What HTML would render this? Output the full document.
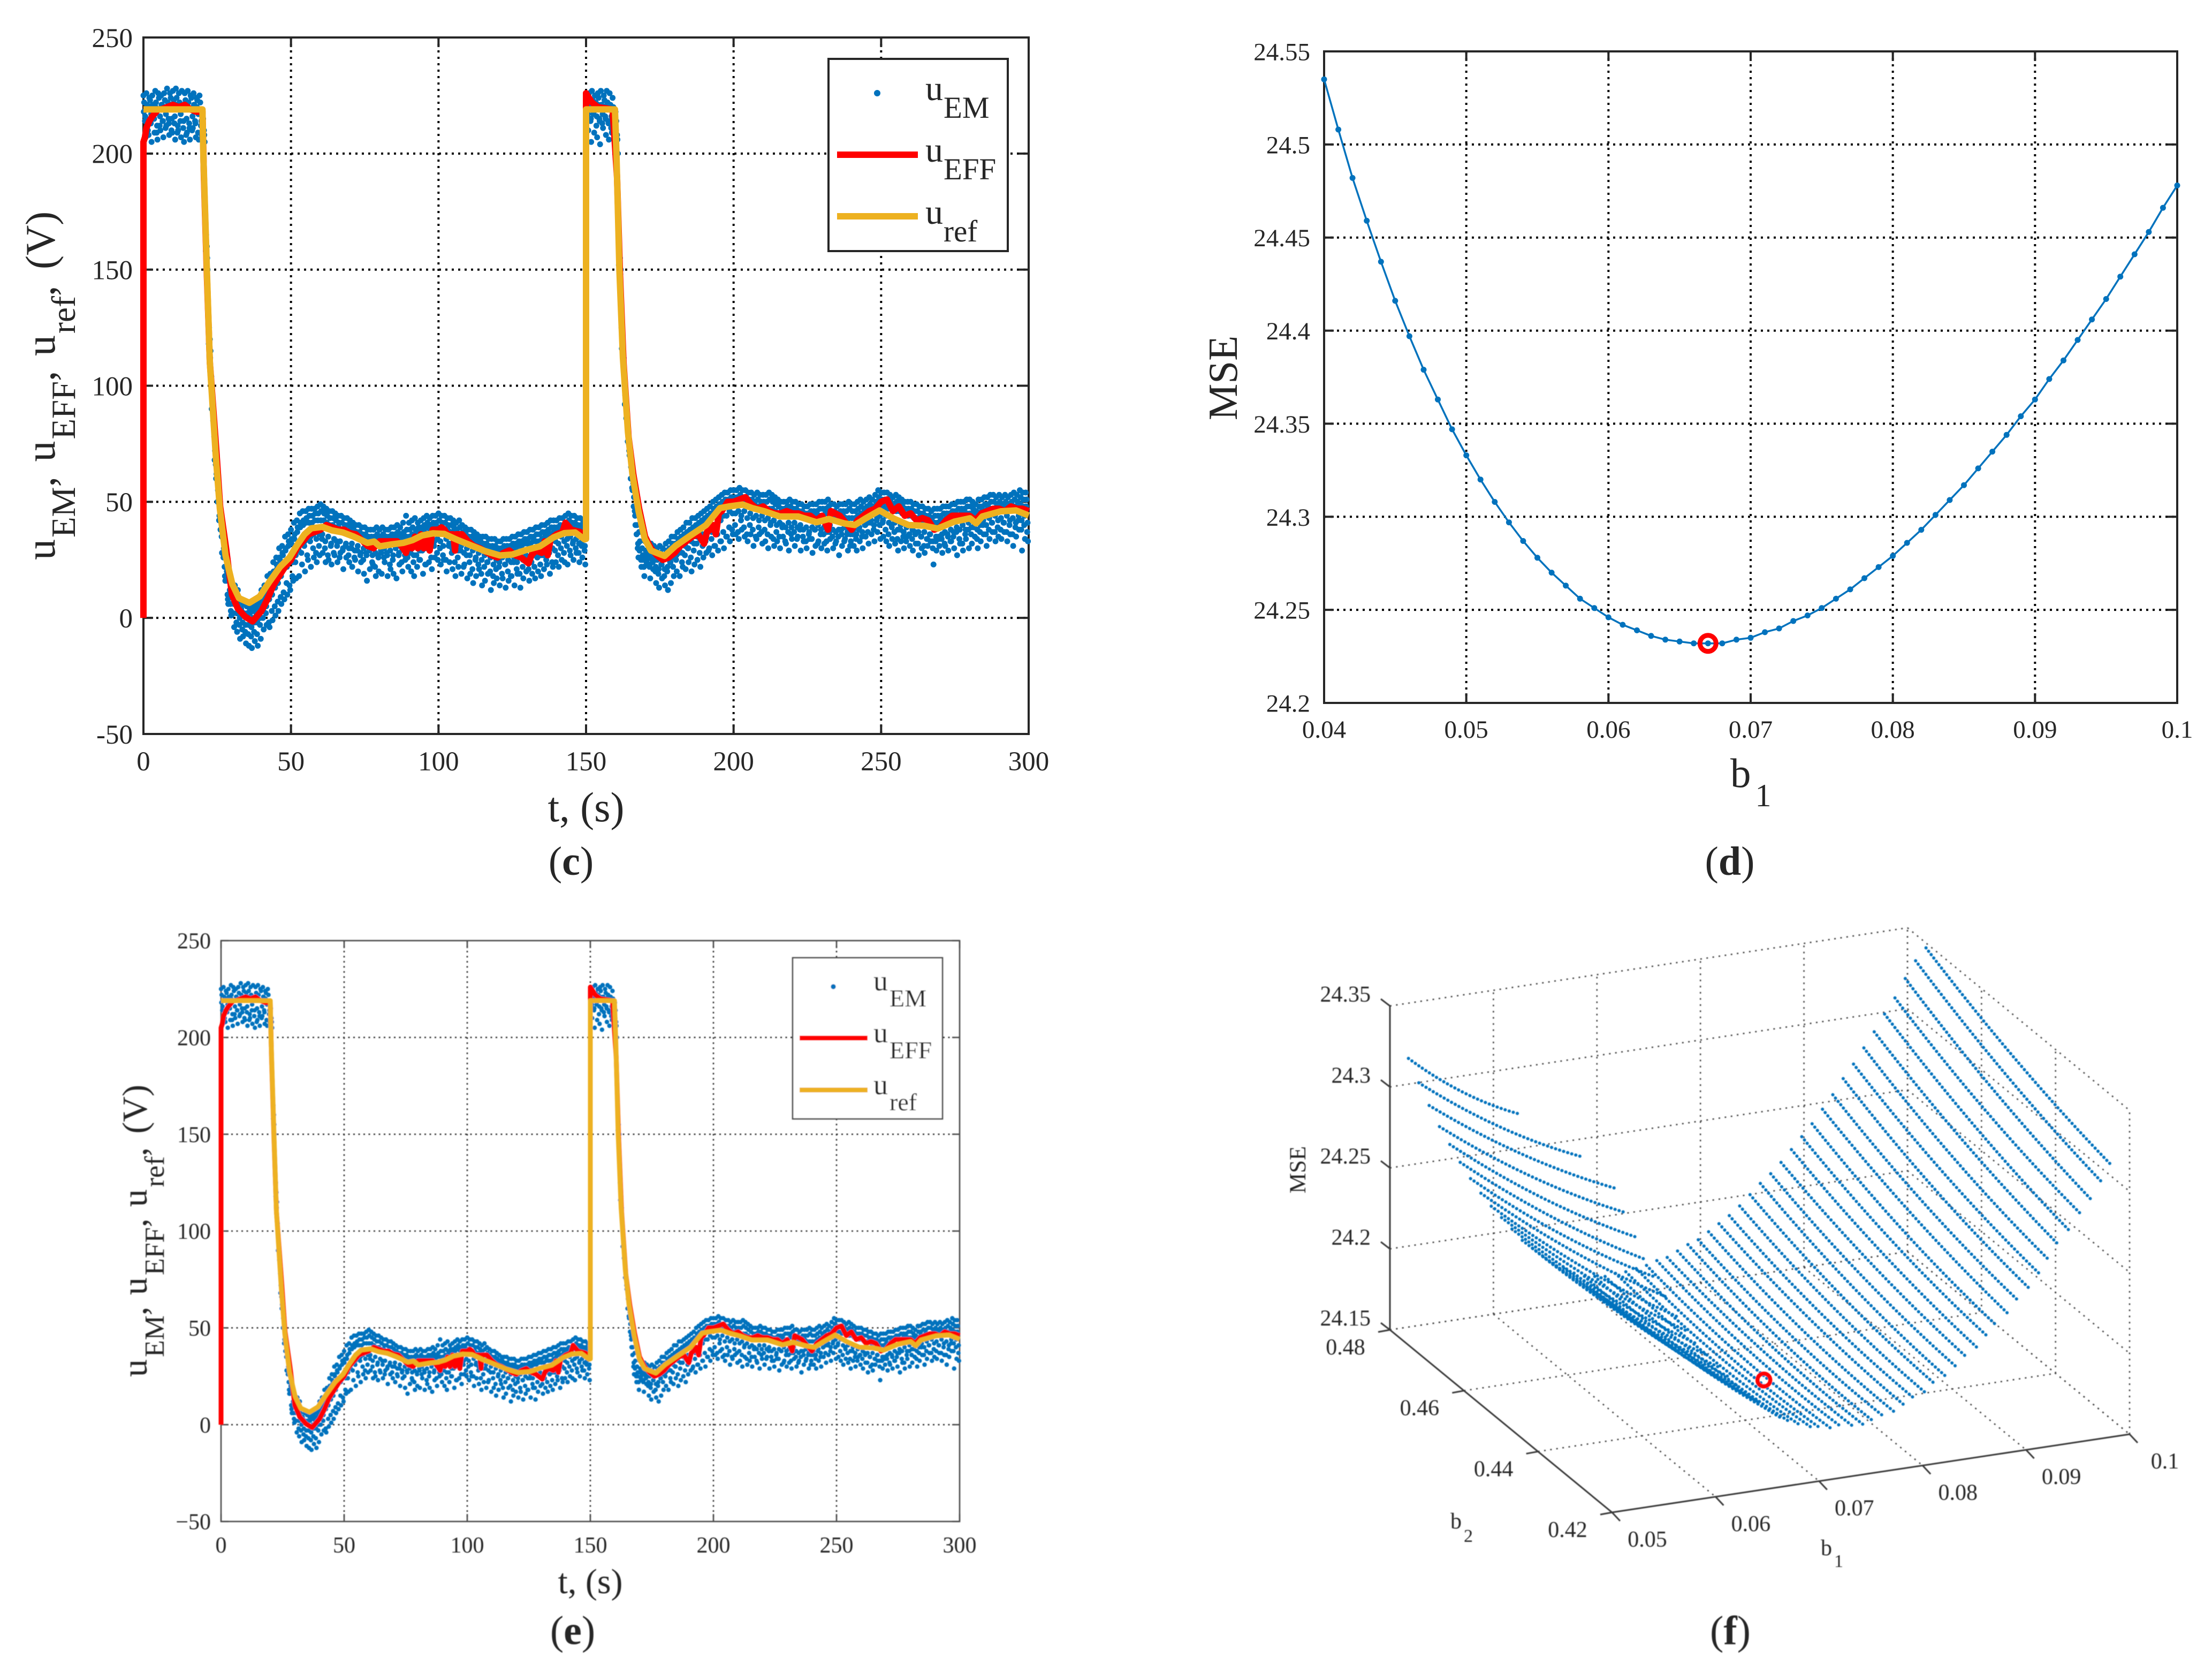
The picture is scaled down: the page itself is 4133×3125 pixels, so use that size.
<!DOCTYPE html>
<html lang="en">
<head>
<meta charset="utf-8">
<title>Panels c to f: voltage tracking and MSE charts</title>
<style>
html,body{margin:0;padding:0;background:#fff;}
svg{display:block;position:absolute;left:0;top:0;}
text{font-family:"Liberation Serif","DejaVu Serif",serif;fill:#262626;}
</style>
</head>
<body>
<svg id="figure" xmlns="http://www.w3.org/2000/svg" width="4133" height="3125" viewBox="0 0 4133 3125">
<defs><filter id="soft" x="-5%" y="-5%" width="110%" height="110%"><feGaussianBlur stdDeviation="0.9"/></filter></defs>
<rect x="0" y="0" width="4133" height="3125" fill="#ffffff"/>
</svg>
<script>
// ---------- voltage chart data (panels c and e) ----------
const tTicks = [0,50,100,150,200,250,300];
const vTicks = [-50,0,50,100,150,200,250];
const refT = [0,20,20.3,21.5,22.5,24.5,25.9,27.8,30.1,32.4,35.9,39.4,42.6,46.3,49.5,51.9,54.6,56.9,60.6,63.9,67.6,71.3,75.9,78.2,80.1,84.3,88,91.2,94.4,98.1,101.9,106,111.1,115.7,120.8,125,129.6,134.3,138.9,142.6,146.3,149.5,150,150,159.8,160.3,161.3,162.5,164.2,165.7,167.8,169.9,172,176.6,180.3,185.5,190.7,195.4,198.4,203.1,206.3,210.5,215.6,221.9,228.1,232.3,237.5,241.1,244.8,249.5,254.1,259.3,264.5,269.2,274.9,280.1,282.2,284.3,290.5,295.7,300];
const refV = [219,219,200,150,110,70,47,27,14.6,8.5,6.5,9.2,15.4,22,26,31,36,38.6,39.2,37.7,36.8,35,32.3,32.9,30.8,31.7,32.3,33.5,35.5,36.4,36.2,33.8,31.2,28.8,26.9,27.3,29.2,30.8,34.6,36.5,36.8,33.8,34,219,219,200,150,112,80,62,46,34,29,26.7,31,35.6,40,47.3,48,48.8,47.3,45.9,43.7,43.7,41.2,42.6,40.7,40,42.9,46.3,42.9,40,39.7,38.5,41.5,42.9,40.7,43.7,45.9,46.3,44.1];
const effT = [0,0,0.5,1,2,3,4,5,6,8,10,12,14,16,18,20,20.5,21.5,22.5,24.7,26,28,30,32,34.5,37,40,42,44,46,48,50,52,54,56,58,60,62,64,66,68,70,72,74,76,78,80,82,84,86,88,89,90,91,92,93,94,95,96,97,98,99,100,101,102,103,104,105,105.6,106,108,110,112,114,118,120,122,124,126,128,130.5,131.5,133,135,136,137,138,140,142,143,145,148,150,150,151,152,154,159,160.5,161.5,162.7,164.4,166,168,170,172,174,176,178,180,182,184,186,188,190,191,192,193,194,195,196,198,200,202,204,206,208,210,212,214,216,218,220,222,224,226,228,230,232,233,236,238,240,242,244,246,248,250,252,254,256,258,260,262,264,266,268,270,272,274,276,278,280,282,284,286,288,290,292,294,296,298,300];
const effV = [0,205,207,211,214,216,217.5,219,219,220,221,220,221,219,218,218,190,148,110,72,48,30,10,4,0.5,-1.5,3,8,14,18,22,25,30,33,36,37,38,40,39,38,38,36.5,36,33.5,31,30,33,33,33,33,30,28,33,30,35,30,36,30,36,29,38,38,38,39,38,36,36,36,29,36,36,33,31,30,27,26,28,29,27,26,23.5,27,29,28,33,27,34,36,37,41,38,37,35,226,224,222,220,219,190,148,110,78,62,47,35,30,27,25,26,28,31,33,35,36,32,37,38,40,36,45,46,50,50,51,52,49,47,48,46,45,45,46,45,45,44,44,42,44,38,46,44,41,38,42,44,46,47,50,51,46,48,44,45,42,43,42,38,39,42,44,44,44,44,42,45,46,47,47,46,48,47,47,46];
// one sample per second, t = 0..299; six sample rows within each second
const emTop = [
225,226,224,225,227,226,225,226,228,226,
227,228,226,227,226,227,225,226,224,225,
219,172,132,104,78,62,50,36,27,18,
15,14,12,8,6,5,4,5,6,8,
12,14,18,19,24,26,30,31,35,36,
38,41,42,45,46,46,47,47,47,48,
49,48,47,46,46,45,44,44,43,43,
42,41,40,40,39,39,38,38,38,39,
38,39,38,38,39,39,40,39,41,44,
41,42,43,41,42,43,44,43,44,44,
45,44,44,43,43,42,41,42,40,39,
38,38,37,36,35,35,35,34,34,34,
33,33,34,34,34,35,35,36,36,37,
37,38,38,39,39,40,40,41,42,42,
42,43,43,44,45,44,44,43,43,42,
224,226,227,225,226,227,225,227,226,224,
218,165,125,100,85,70,58,45,37,30,
33,32,32,31,30,31,30,32,33,35,
35,37,38,39,41,41,43,43,44,45,
46,47,48,50,51,52,53,54,54,55,
55,55,56,55,55,54,54,53,54,53,
53,53,54,53,52,51,50,50,50,51,
50,50,49,49,48,48,49,49,49,50,
50,50,51,49,49,48,49,49,49,50,
49,49,50,51,50,51,52,51,53,55,
54,54,54,53,52,53,52,51,50,50,
50,49,49,48,48,47,47,46,47,47,
47,48,48,48,49,49,50,50,50,51,
51,50,49,51,51,52,52,53,53,52,
53,52,53,52,53,54,53,55,54,54];
const emUpper = [
222,221,223,220,222,224,221,223,222,224,
223,224,222,221,223,222,224,221,223,222,
215,165,125,98,72,55,42,30,20,12,
10,8,6,3,1,0,-1,0,2,4,
7,9,12,15,18,21,25,27,30,33,
34,36,39,41,42,43,44,44,45,45,
46,45,44,43,43,42,41,41,40,40,
39,38,37,37,36,36,35,35,35,36,
35,36,35,35,36,36,37,36,37,38,
38,39,38,39,39,40,41,40,41,41,
42,41,41,40,40,39,38,39,37,36,
35,35,34,33,33,32,32,31,31,31,
30,30,31,31,31,32,32,33,33,34,
34,35,35,36,36,37,37,38,39,39,
39,40,40,41,42,41,41,40,40,39,
222,221,223,222,224,221,223,222,221,220,
214,160,122,96,80,65,52,40,33,27,
29,28,28,27,27,28,27,29,30,32,
32,34,35,36,37,38,39,40,41,42,
43,44,45,47,48,49,50,51,51,52,
52,52,53,52,52,51,51,50,51,50,
50,50,51,50,49,48,47,47,48,48,
47,47,46,46,45,45,46,46,46,47,
47,47,48,46,46,45,46,46,46,47,
46,46,47,48,47,48,49,48,50,52,
51,51,51,50,49,50,49,48,47,47,
47,46,46,45,45,44,44,43,44,44,
44,45,45,45,46,46,47,47,47,48,
48,47,46,48,48,49,49,50,50,49,
50,49,50,49,50,51,50,52,51,51];
const emNear = [
218,219,220,221,220,219,221,220,219,221,
220,221,219,220,221,220,219,221,220,218,
212,158,118,90,68,50,38,26,16,10,
9,7,5,4,2,2,2,3,4,6,
9,11,14,17,20,23,26,28,29,31,
32,34,37,39,40,41,41,41,42,42,
42,42,41,40,40,39,39,38,38,37,
37,36,36,35,35,34,34,34,34,34,
33,34,33,34,34,34,35,34,35,35,
35,36,36,37,38,38,39,38,39,39,
39,39,38,38,37,37,36,36,35,34,
33,33,32,31,31,30,30,29,29,29,
29,29,29,29,29,30,30,31,31,32,
32,32,33,33,33,34,35,36,36,37,
37,38,38,39,39,39,39,38,38,37,
221,220,219,220,221,220,219,221,220,218,
210,152,116,92,76,60,48,36,29,25,
27,26,26,25,25,26,25,27,28,30,
30,32,33,34,35,36,37,38,39,40,
41,42,43,45,46,47,49,50,50,50,
50,50,51,50,50,49,49,48,48,48,
48,47,47,47,46,45,45,45,46,45,
45,45,45,44,44,43,43,44,44,44,
44,45,45,44,44,43,44,44,43,43,
43,43,44,45,45,46,46,47,48,49,
48,48,47,47,46,46,46,45,44,44,
44,43,43,43,42,42,42,41,41,41,
42,42,43,43,44,44,44,45,45,45,
45,45,44,45,46,46,47,47,47,47,
48,48,48,47,48,48,48,49,48,48];
const emBelow = [
216,213,217,215,212,216,214,217,213,215,
216,212,217,214,215,211,216,213,217,214,
208,155,112,85,60,42,28,18,8,3,
6,2,0,-2,-3,-3,-4,-2,-2,0,
3,5,8,10,13,15,18,21,22,24,
24,27,29,32,33,34,35,36,34,36,
36,33,35,32,34,31,33,30,32,30,
32,29,31,28,30,27,29,27,28,26,
28,30,27,29,27,31,28,30,27,29,
30,27,31,29,32,30,33,31,33,34,
33,31,34,32,30,32,29,31,28,30,
27,29,26,28,25,27,24,26,23,25,
24,26,23,25,24,26,24,27,25,27,
26,28,27,30,27,31,29,32,30,33,
32,35,33,34,35,33,34,32,33,31,
217,215,218,216,214,217,215,213,216,214,
206,148,110,86,72,56,44,32,25,22,
25,23,24,22,21,23,21,22,24,26,
27,29,28,31,30,33,32,35,34,36,
36,38,37,40,41,42,44,44,46,45,
45,46,44,46,43,45,43,44,42,44,
42,43,41,42,40,41,40,39,41,39,
41,39,40,38,39,37,39,38,40,38,
39,37,40,38,37,38,36,39,37,36,
38,36,39,37,40,41,42,40,43,44,
42,44,41,39,41,38,40,37,39,36,
38,36,37,35,37,34,36,33,35,34,
36,37,35,38,37,39,38,40,38,41,
39,41,38,40,42,40,43,41,44,42,
43,41,44,42,43,41,44,42,44,41];
const emLow = [
214,210,213,215,209,212,214,211,215,210,
213,209,214,211,208,213,210,214,209,212,
210,160,120,92,66,50,35,22,10,6,
2,-2,-3,-5,-6,-7,-8,-6,-7,-3,
0,2,-2,3,5,7,9,11,15,14,
18,24,30,28,31,27,33,30,28,31,
34,30,27,31,28,33,26,29,31,27,
30,26,29,27,25,28,30,24,22,27,
29,26,28,23,25,30,27,24,29,26,
28,24,27,25,29,23,30,26,31,28,
30,27,25,31,28,24,26,29,22,27,
24,21,25,23,19,22,24,20,18,21,
22,19,23,20,18,24,21,19,22,25,
21,24,22,26,23,27,25,28,24,29,
27,30,28,31,29,32,30,28,31,29,
216,214,217,212,215,213,216,214,211,215,
208,155,118,92,75,60,46,30,26,22,
24,22,25,20,19,23,18,20,24,22,
25,28,24,27,30,26,29,32,28,31,
33,29,34,31,36,33,37,35,39,38,
40,37,42,39,36,40,38,35,39,37,
38,36,40,34,37,35,39,33,37,36,
37,34,38,35,33,36,34,38,32,36,
36,33,37,35,32,35,38,33,36,31,
36,34,38,35,40,37,41,38,42,40,
41,38,36,40,37,34,38,35,33,36,
34,37,32,35,31,34,36,30,33,35,
34,32,36,33,35,37,34,32,36,38,
36,39,34,37,40,36,38,41,37,39,
38,41,37,40,36,39,42,38,40,37];
const emLowest = [
207,208,205,209,206,210,207,212,208,209,
206,210,207,205,209,206,211,207,206,208,
205,150,115,88,62,44,28,16,6,1,
-4,-6,-9,-8,-11,-12,-13,-10,-12,-9,
-5,-3,-4,-1,1,3,6,8,10,12,
16,17,18,23,20,25,22,26,24,27,
28,24,25,23,27,24,28,21,26,24,
22,25,20,24,19,16,21,23,18,20,
19,24,18,21,19,17,23,20,25,22,
20,18,22,25,19,23,24,21,26,25,
23,25,20,24,21,18,22,19,23,17,
19,15,18,21,14,16,19,12,15,17,
14,17,13,16,18,14,19,13,17,20,
16,19,17,20,18,21,23,19,22,24,
22,25,24,23,27,25,28,24,26,23,
210,205,209,207,204,211,208,206,209,212,
200,150,112,88,70,55,40,26,22,18,
23,17,21,15,13,17,14,12,15,18,
20,18,22,21,24,20,23,25,22,26,
28,30,27,31,29,33,30,35,33,36,
36,34,38,35,33,36,31,34,36,32,
33,30,35,31,33,30,35,32,29,34,
31,35,29,33,30,34,28,31,33,30,
32,29,34,30,33,27,31,34,29,33,
31,29,33,30,35,32,36,33,37,34,
35,33,31,34,32,29,33,30,35,31,
29,32,27,30,28,31,33,23,29,31,
28,31,29,33,30,27,32,29,34,30,
32,35,30,33,36,31,34,37,33,35,
34,37,33,36,31,35,38,29,34,33];

// ---------- panel d data ----------
const dB1Ticks = ['0.04','0.05','0.06','0.07','0.08','0.09','0.1'];
const dMseTicks = ['24.2','24.25','24.3','24.35','24.4','24.45','24.5','24.55'];
const dB1 = [0.040,0.041,0.042,0.043,0.044,0.045,0.046,0.047,0.048,0.049,0.050,0.051,0.052,0.053,0.054,0.055,0.056,0.057,0.058,0.059,0.060,0.061,0.062,0.063,0.064,0.065,0.066,0.067,0.068,0.069,0.070,0.071,0.072,0.073,0.074,0.075,0.076,0.077,0.078,0.079,0.080,0.081,0.082,0.083,0.084,0.085,0.086,0.087,0.088,0.089,0.090,0.091,0.092,0.093,0.094,0.095,0.096,0.097,0.098,0.099,0.100];
const dMse = [24.535,24.508,24.482,24.459,24.437,24.416,24.397,24.379,24.363,24.347,24.333,24.320,24.308,24.297,24.287,24.278,24.270,24.263,24.256,24.251,24.246,24.242,24.239,24.236,24.234,24.233,24.232,24.232,24.232,24.234,24.235,24.238,24.240,24.244,24.247,24.251,24.256,24.261,24.267,24.273,24.279,24.286,24.293,24.301,24.309,24.317,24.326,24.335,24.344,24.354,24.363,24.374,24.384,24.395,24.406,24.417,24.429,24.441,24.453,24.466,24.478];
const dBestB1 = [0.067];
const dBestMse = [24.232];

// ---------- panel f data ----------
const fB1Ticks = [0.05,0.06,0.07,0.08,0.09,0.1];
const fB2Ticks = [0.42,0.44,0.46,0.48];
const fZTicks = [24.15,24.2,24.25,24.3,24.35];
const fB1 = [0.050,0.051,0.052,0.053,0.054,0.055,0.056,0.057,0.058,0.059,0.060,0.061,0.062,0.063,0.064,0.065,0.066,0.067,0.068,0.069,0.070,0.071,0.072,0.073,0.074,0.075,0.076,0.077,0.078,0.079,0.080,0.081,0.082,0.083,0.084,0.085,0.086,0.087,0.088,0.089,0.090,0.091,0.092,0.093,0.094,0.095,0.096,0.097,0.098,0.099,0.100];
const fB2Start = 0.475;
const fB2End = [0.445,0.431,0.425,0.425,0.425,0.425,0.425,0.425,0.425,0.425,0.425,0.425,0.425,0.425,0.425,0.425,0.425,0.425,0.425,0.425,0.425,0.425,0.425,0.425,0.425,0.425,0.425,0.425,0.425,0.425,0.425,0.425,0.425,0.425,0.425,0.425,0.425,0.425,0.425,0.425,0.425,0.425,0.425,0.425,0.425,0.425,0.425,0.425,0.425,0.425,0.425];
const fZStart = [24.327,24.311,24.296,24.282,24.270,24.258,24.247,24.237,24.228,24.220,24.212,24.204,24.198,24.192,24.187,24.183,24.179,24.176,24.175,24.174,24.175,24.175,24.176,24.177,24.179,24.180,24.183,24.186,24.188,24.192,24.196,24.200,24.205,24.211,24.217,24.222,24.228,24.235,24.242,24.249,24.257,24.265,24.274,24.282,24.291,24.300,24.310,24.319,24.330,24.340,24.347];
const fZMid = [24.334,24.325,24.313,24.298,24.284,24.271,24.259,24.248,24.237,24.228,24.219,24.211,24.204,24.198,24.192,24.187,24.182,24.177,24.174,24.172,24.171,24.170,24.169,24.169,24.170,24.171,24.172,24.174,24.176,24.179,24.183,24.186,24.190,24.195,24.200,24.205,24.211,24.217,24.223,24.229,24.237,24.244,24.252,24.260,24.268,24.277,24.286,24.295,24.305,24.315,24.323];
const fZEnd = [24.349,24.348,24.339,24.323,24.307,24.292,24.280,24.267,24.254,24.244,24.235,24.227,24.219,24.212,24.205,24.199,24.193,24.187,24.182,24.178,24.175,24.173,24.171,24.170,24.170,24.170,24.170,24.171,24.173,24.175,24.178,24.181,24.184,24.188,24.192,24.197,24.202,24.207,24.213,24.218,24.225,24.232,24.239,24.247,24.254,24.262,24.270,24.280,24.288,24.298,24.307];
const fBestB1 = [0.072];
const fBestB2 = [0.4405];
const fBestZ = [24.172];

// ---------- helpers ----------
const NS = 'http://www.w3.org/2000/svg';
const figure = document.getElementById('figure');

function makeGroup(parent, name) {
  const el = document.createElementNS(NS, 'g');
  
  
  parent.appendChild(el);
  return el;
}
function shape(parent, tag, name, props) {
  const el = document.createElementNS(NS, tag);
  for (const k in props) el.setAttribute(k, props[k]);
  
  
  parent.appendChild(el);
  return el;
}
function seg(parent, name, x1, y1, x2, y2, stroke, width, dash) {
  const props = {x1: x1, y1: y1, x2: x2, y2: y2, stroke: stroke, 'stroke-width': width};
  if (dash) props['stroke-dasharray'] = dash;
  return shape(parent, 'line', name, props);
}
function label(parent, name, str, x, y, size, anchor, extra) {
  const props = Object.assign({x: x, y: y, 'font-size': size, 'text-anchor': anchor || 'middle'}, extra || {});
  const el = shape(parent, 'text', name, props);
  el.textContent = str;
  return el;
}
// text built from [string, isSubscript, extraGap] parts
function subText(parent, name, parts, x, y, size, subSize, drop, transform) {
  const el = shape(parent, 'text', name, {x: x, y: y, 'font-size': size});
  if (transform) el.setAttribute('transform', transform);
  let sub = false;
  parts.forEach(function (p) {
    const t = document.createElementNS(NS, 'tspan');
    if (p[1] !== sub) {
      t.setAttribute('dy', p[1] ? drop : -drop);
      sub = p[1];
    }
    if (p[2]) t.setAttribute('dx', p[2]);
    t.setAttribute('font-size', p[1] ? subSize : size);
    t.textContent = p[0];
    el.appendChild(t);
  });
  return el;
}
function polyPoints(xs, ys, xf, yf) {
  return xs.map(function (v, i) { return xf(v).toFixed(1) + ',' + yf(ys[i]).toFixed(1); }).join(' ');
}
function panelTag(parent, letter, x, y) {
  const el = shape(parent, 'text', 'panel-label-' + letter, {x: x, y: y, 'font-size': 76, 'text-anchor': 'middle', fill: '#000'});
  const a = document.createElementNS(NS, 'tspan'); a.textContent = '('; el.appendChild(a);
  const b = document.createElementNS(NS, 'tspan'); b.textContent = letter; b.setAttribute('font-weight', 'bold'); el.appendChild(b);
  const c = document.createElementNS(NS, 'tspan'); c.textContent = ')'; el.appendChild(c);
}

// ---------- panels c and e ----------
function voltageChart(cfg) {
  const root = makeGroup(figure, cfg.name);
  if (cfg.blur) root.setAttribute('filter', 'url(#soft)');
  const X = function (t) { return cfg.x0 + (t - 0) / 300 * (cfg.x1 - cfg.x0); };
  const Y = function (v) { return cfg.yTop + (250 - v) / 300 * (cfg.yBot - cfg.yTop); };

  const grid = makeGroup(root, 'grid');
  tTicks.slice(1, -1).forEach(function (t) {
    seg(grid, 'grid-line-x', X(t), cfg.yTop, X(t), cfg.yBot, cfg.gridColor, cfg.gridW, cfg.gridDash);
  });
  vTicks.slice(1, -1).forEach(function (v) {
    seg(grid, 'grid-line-y', cfg.x0, Y(v), cfg.x1, Y(v), cfg.gridColor, cfg.gridW, cfg.gridDash);
  });

  const axes = makeGroup(root, 'axes');
  shape(axes, 'rect', 'plot-box', {x: cfg.x0, y: cfg.yTop, width: cfg.x1 - cfg.x0, height: cfg.yBot - cfg.yTop, fill: 'none', stroke: cfg.axisColor, 'stroke-width': cfg.axisW});
  tTicks.forEach(function (t) {
    seg(axes, 'x-tick', X(t), cfg.yBot, X(t), cfg.yBot - cfg.tick, cfg.axisColor, cfg.axisW);
    seg(axes, 'x-tick-top', X(t), cfg.yTop, X(t), cfg.yTop + cfg.tick, cfg.axisColor, cfg.axisW);
    label(axes, 'x-tick-label', String(t), X(t), cfg.xLabelY, cfg.fs);
  });
  vTicks.forEach(function (v) {
    seg(axes, 'y-tick', cfg.x0, Y(v), cfg.x0 + cfg.tick, Y(v), cfg.axisColor, cfg.axisW);
    seg(axes, 'y-tick-right', cfg.x1, Y(v), cfg.x1 - cfg.tick, Y(v), cfg.axisColor, cfg.axisW);
    const txt = v < 0 ? cfg.minus + Math.abs(v) : String(v);
    label(axes, 'y-tick-label', txt, cfg.yLabelX, Y(v) + cfg.fs * 0.35, cfg.fs, 'end');
  });

  const dots = makeGroup(root, 'series-u-em');
  const rows = [[emTop, 0], [emNear, 0.125], [emUpper, 0.25], [emLow, 0.5], [emBelow, 0.625], [emLowest, 0.75]];
  rows.forEach(function (row) {
    row[0].forEach(function (v, i) {
      shape(dots, 'circle', 'u-em-point', {cx: X(i + row[1]).toFixed(1), cy: Y(v).toFixed(1), r: cfg.dotR, fill: '#0072BD'});
    });
  });
  shape(root, 'polyline', 'series-u-eff', {points: polyPoints(effT, effV, X, Y), fill: 'none', stroke: '#FF0000', 'stroke-width': cfg.lineW, 'stroke-linejoin': 'round'});
  shape(root, 'polyline', 'series-u-ref', {points: polyPoints(refT, refV, X, Y), fill: 'none', stroke: '#EDB120', 'stroke-width': cfg.lineW, 'stroke-linejoin': 'round'});

  const lg = makeGroup(root, 'legend');
  const L = cfg.legend;
  shape(lg, 'rect', 'legend-box', {x: L.x, y: L.y, width: L.w, height: L.h, fill: '#fff', stroke: cfg.axisColor, 'stroke-width': cfg.axisW});
  shape(lg, 'circle', 'legend-marker-u-em', {cx: L.dotX, cy: L.dotY, r: cfg.dotR + 0.5, fill: '#0072BD'});
  seg(lg, 'legend-line-u-eff', L.lineX0, L.effY, L.lineX1, L.effY, '#FF0000', cfg.lineW);
  seg(lg, 'legend-line-u-ref', L.lineX0, L.refY, L.lineX1, L.refY, '#EDB120', cfg.lineW);
  subText(lg, 'legend-entry-u-em', [['u', false], ['EM', true, L.gap]], L.textX, L.emBase, L.fs, L.subFs, L.drop);
  subText(lg, 'legend-entry-u-eff', [['u', false], ['EFF', true, L.gap]], L.textX, L.effBase, L.fs, L.subFs, L.drop);
  subText(lg, 'legend-entry-u-ref', [['u', false], ['ref', true, L.gap]], L.textX, L.refBase, L.fs, L.subFs, L.drop);

  const T = cfg.yTitle;
  subText(root, 'y-axis-title', [['u', false], ['EM', true, T.g1], [',\u00A0', false], ['u', false, T.g2], ['EFF', true, T.g1], [',\u00A0', false], ['u', false, T.g2], ['ref', true, T.g1], [',\u00A0', false], ['(V)', false, T.g3]], T.x, T.y, T.fs, T.subFs, T.drop, 'rotate(-90 ' + T.x + ' ' + T.y + ')');
  label(root, 'x-axis-title', 't, (s)', cfg.xTitleX, cfg.xTitleY, cfg.titleFs);
  panelTag(root, cfg.tag, cfg.tagX, cfg.tagY);
}

voltageChart({name: 'chart-c', tag: 'c', x0: 268, x1: 1922, yTop: 70, yBot: 1371, tick: 18, axisW: 4, axisColor: '#262626', gridColor: '#000', gridW: 4, gridDash: '4 8', fs: 51, minus: '-', xLabelY: 1439, yLabelX: 248, dotR: 5.5, lineW: 12, titleFs: 78, xTitleX: 1095, xTitleY: 1534, tagX: 1067, tagY: 1634,
  yTitle: {x: 102, y: 1046, fs: 78, subFs: 63, drop: 38, g1: 3, g2: 8, g3: 11},
  legend: {x: 1548, y: 110, w: 335, h: 359, dotX: 1639, dotY: 174, lineX0: 1564, lineX1: 1715, effY: 289, refY: 404, textX: 1729, emBase: 187, effBase: 302, refBase: 418, fs: 66, subFs: 57, drop: 33, gap: 1}});
voltageChart({name: 'chart-e', tag: 'e', blur: true, x0: 413, x1: 1793, yTop: 1757, yBot: 2842, tick: 14, axisW: 2.6, axisColor: '#4d4d4d', gridColor: '#333', gridW: 2.6, gridDash: '3 6.5', fs: 42, minus: '\u2212', xLabelY: 2900, yLabelX: 394, dotR: 4.2, lineW: 9, titleFs: 66, xTitleX: 1103, xTitleY: 2976, tagX: 1070, tagY: 3071,
  yTitle: {x: 274, y: 2572, fs: 66, subFs: 52, drop: 32, g1: 4, g2: 5, g3: 9},
  legend: {x: 1481, y: 1789, w: 280, h: 301, dotX: 1557, dotY: 1843, lineX0: 1494, lineX1: 1621, effY: 1939, refY: 2036, textX: 1632, emBase: 1850, effBase: 1947, refBase: 2044, fs: 54, subFs: 46, drop: 30, gap: 3}});

// ---------- panel d ----------
(function () {
  const root = makeGroup(figure, 'chart-d');
  const x0 = 2474, x1 = 4068, yTop = 96, yBot = 1313;
  const X = function (b) { return x0 + (b - 0.04) / 0.06 * (x1 - x0); };
  const Y = function (m) { return yBot - (m - 24.2) / 0.35 * (yBot - yTop); };
  const grid = makeGroup(root, 'grid');
  dB1Ticks.slice(1, -1).forEach(function (s) {
    const v = parseFloat(s);
    seg(grid, 'grid-line-x', X(v), yTop, X(v), yBot, '#000', 4, '4 8');
  });
  dMseTicks.slice(1, -1).forEach(function (s) {
    const v = parseFloat(s);
    seg(grid, 'grid-line-y', x0, Y(v), x1, Y(v), '#000', 4, '4 8');
  });
  const axes = makeGroup(root, 'axes');
  shape(axes, 'rect', 'plot-box', {x: x0, y: yTop, width: x1 - x0, height: yBot - yTop, fill: 'none', stroke: '#262626', 'stroke-width': 4});
  dB1Ticks.forEach(function (s) {
    const v = parseFloat(s);
    seg(axes, 'x-tick', X(v), yBot, X(v), yBot - 18, '#262626', 4);
    seg(axes, 'x-tick-top', X(v), yTop, X(v), yTop + 18, '#262626', 4);
    label(axes, 'x-tick-label', s, X(v), 1378, 47);
  });
  dMseTicks.forEach(function (s) {
    const v = parseFloat(s);
    seg(axes, 'y-tick', x0, Y(v), x0 + 18, Y(v), '#262626', 4);
    seg(axes, 'y-tick-right', x1, Y(v), x1 - 18, Y(v), '#262626', 4);
    label(axes, 'y-tick-label', s, 2448, Y(v) + 16.5, 47, 'end');
  });
  shape(root, 'polyline', 'mse-curve', {points: polyPoints(dB1, dMse, X, Y), fill: 'none', stroke: '#0072BD', 'stroke-width': 3.5});
  const pts = makeGroup(root, 'mse-points');
  dB1.forEach(function (b, i) {
    shape(pts, 'circle', 'mse-point', {cx: X(b).toFixed(1), cy: Y(dMse[i]).toFixed(1), r: 5.5, fill: '#0072BD'});
  });
  shape(root, 'circle', 'minimum-marker', {cx: X(dBestB1[0]), cy: Y(dBestMse[0]), r: 15, fill: 'none', stroke: '#FF0000', 'stroke-width': 9});
  label(root, 'y-axis-title', 'MSE', 2311, 706, 77, 'middle', {transform: 'rotate(-90 2311 706)'});
  subText(root, 'x-axis-title', [['b', false], ['1', true, 8]], 3233, 1470, 77, 60, 36);
  panelTag(root, 'd', 3232, 1634);
})();

// ---------- panel f (orthographic 3D axes) ----------
(function () {
  const root = makeGroup(figure, 'chart-f');
  root.setAttribute('filter', 'url(#soft)');
  const ax = 2597, ay = 2484;
  const PX = function (b1, b2) { return ax + (b1 - 0.05) / 0.05 * 967 + (0.48 - b2) / 0.06 * 415; };
  const PY = function (b1, b2, z) { return ay - (b1 - 0.05) / 0.05 * 146 + (0.48 - b2) / 0.06 * 341 - (z - 24.15) / 0.2 * 605; };
  const gridC = '#444', gridW = 2.6, gridD = '3 8.5';
  const grid = makeGroup(root, 'grid');
  function gridLine(name, a, b) {
    seg(grid, name, PX(a[0], a[1]), PY(a[0], a[1], a[2]), PX(b[0], b[1]), PY(b[0], b[1], b[2]), gridC, gridW, gridD);
  }
  fB1Ticks.forEach(function (b) {
    gridLine('floor-grid-b1', [b, 0.48, 24.15], [b, 0.42, 24.15]);
    if (b > 0.05) gridLine('wall-grid-b1', [b, 0.48, 24.15], [b, 0.48, 24.35]);
  });
  fB2Ticks.forEach(function (b) {
    gridLine('floor-grid-b2', [0.05, b, 24.15], [0.1, b, 24.15]);
    gridLine('wall-grid-b2', [0.1, b, 24.15], [0.1, b, 24.35]);
  });
  fZTicks.forEach(function (z) {
    gridLine('wall-grid-z-left', [0.05, 0.48, z], [0.1, 0.48, z]);
    gridLine('wall-grid-z-right', [0.1, 0.48, z], [0.1, 0.42, z]);
  });

  const axes = makeGroup(root, 'axes');
  const axC = '#3a3a3a';
  seg(axes, 'z-axis-line', PX(0.05, 0.48), PY(0.05, 0.48, 24.15), PX(0.05, 0.48), PY(0.05, 0.48, 24.35), axC, 3);
  seg(axes, 'b2-axis-line', PX(0.05, 0.48), PY(0.05, 0.48, 24.15), PX(0.05, 0.42), PY(0.05, 0.42, 24.15), axC, 3);
  seg(axes, 'b1-axis-line', PX(0.05, 0.42), PY(0.05, 0.42, 24.15), PX(0.1, 0.42), PY(0.1, 0.42, 24.15), axC, 3);
  fZTicks.forEach(function (z) {
    const y = PY(0.05, 0.48, z);
    seg(axes, 'z-tick', ax, y, ax - 17, y - 13, axC, 3);
    label(axes, 'z-tick-label', String(z), 2561, y - 8, 42, 'end');
  });
  fB2Ticks.forEach(function (b) {
    const x = PX(0.05, b), y = PY(0.05, b, 24.15);
    seg(axes, 'b2-tick', x, y, x - 22, y + 4, axC, 3);
    label(axes, 'b2-tick-label', b.toFixed(2), x - 83, y + 46, 42);
  });
  fB1Ticks.forEach(function (b) {
    const x = PX(b, 0.42), y = PY(b, 0.42, 24.15);
    seg(axes, 'b1-tick', x, y, x + 15, y + 16, axC, 3);
    label(axes, 'b1-tick-label', b === 0.1 ? '0.1' : b.toFixed(2), x + 66, y + 64, 42);
  });

  const surf = makeGroup(root, 'mse-surface');
  fB1.forEach(function (b1, i) {
    const bEnd = fB2End[i], bMid = (fB2Start + bEnd) / 2;
    const sx = PX(b1, fB2Start), sy = PY(b1, fB2Start, fZStart[i]);
    const mx = PX(b1, bMid), my = PY(b1, bMid, fZMid[i]);
    const ex = PX(b1, bEnd), ey = PY(b1, bEnd, fZEnd[i]);
    const cx = 2 * mx - (sx + ex) / 2, cy = 2 * my - (sy + ey) / 2;
    shape(surf, 'path', 'mse-line-b1', {d: 'M' + sx.toFixed(1) + ' ' + sy.toFixed(1) + ' Q' + cx.toFixed(1) + ' ' + cy.toFixed(1) + ' ' + ex.toFixed(1) + ' ' + ey.toFixed(1), fill: 'none', stroke: '#0072BD', 'stroke-width': 6, 'stroke-linecap': 'round', 'stroke-dasharray': '0.1 7.8'});
  });
  shape(root, 'circle', 'minimum-marker', {cx: PX(fBestB1[0], fBestB2[0]), cy: PY(fBestB1[0], fBestB2[0], fBestZ[0]), r: 12, fill: 'none', stroke: '#FF0000', 'stroke-width': 7.5});

  label(root, 'z-axis-title', 'MSE', 2439, 2185, 43, 'middle', {transform: 'rotate(-90 2439 2185)'});
  subText(root, 'b1-axis-title', [['b', false], ['1', true, 4]], 3402, 2905, 42, 34, 22);
  subText(root, 'b2-axis-title', [['b', false], ['2', true, 4]], 2710, 2855, 42, 34, 25);
  panelTag(root, 'f', 3233, 3071);
})();
</script>
</body>
</html>
